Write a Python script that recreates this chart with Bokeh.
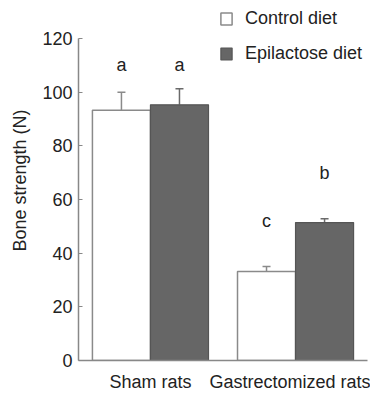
from bokeh.plotting import figure
from bokeh.models import Range1d, ColumnDataSource, Whisker, TeeHead, Legend, LegendItem, FixedTicker
from bokeh.core.properties import value
from bokeh.embed import file_html
from bokeh.resources import INLINE

groups = ["Sham rats", "Gastrectomized rats"]
series = ["Control diet", "Epilactose diet"]
control_mean = [93.3, 33.2]
control_err = [6.7, 1.8]
epi_mean = [95.3, 51.4]
epi_err = [6.0, 1.4]
control_letters = ["a", "c"]
epi_letters = ["a", "b"]
control_letter_y = [110, 52]
epi_letter_y = [110, 70]
y_ticks = [0, 20, 40, 60, 80, 100, 120]

FONT = "Liberation Sans"
TXT = "#222222"
GAP = 2.5
gx = [i * GAP for i in range(len(groups))]
cx = [g - 0.5 for g in gx]
ex = [g + 0.5 for g in gx]

Y_MAX = y_ticks[-1]
PLOT_H = 322          # pixel height of the 0..120 axis
TOP_EXTRA = 38        # pixels above the axis end (room for the legend)
FRAME_H = PLOT_H + TOP_EXTRA
y_end = Y_MAX * FRAME_H / PLOT_H

p = figure(frame_width=289, frame_height=FRAME_H, output_backend="svg", toolbar_location=None,
           x_range=Range1d(-1.24, 3.74), y_range=Range1d(0, y_end),
           min_border_left=78, min_border_right=3, min_border_top=0, min_border_bottom=32)
p.outline_line_color = None
p.grid.visible = False
p.background_fill_color = "white"

src_c = ColumnDataSource(dict(x=cx, top=control_mean, up=[m + e for m, e in zip(control_mean, control_err)],
                              ly=control_letter_y, lt=control_letters))
src_e = ColumnDataSource(dict(x=ex, top=epi_mean, up=[m + e for m, e in zip(epi_mean, epi_err)],
                              ly=epi_letter_y, lt=epi_letters))

for src, col in ((src_c, "#8a8a8a"), (src_e, "#6a6a6a")):
    w = Whisker(base="x", lower="top", upper="up", source=src, line_color=col, line_width=1.5,
                lower_head=None, upper_head=TeeHead(size=8, line_color=col, line_width=1.5))
    p.add_layout(w)

rc = p.vbar(x="x", top="top", width=1.0, source=src_c, fill_color="white", line_color="#8a8a8a", line_width=1.5)
re = p.vbar(x="x", top="top", width=1.0, source=src_e, fill_color="#666666", line_color="#555555", line_width=1.2)

for src in (src_c, src_e):
    p.text(x="x", y="ly", text="lt", source=src, text_align="center", text_baseline="middle",
           text_font=value(FONT), text_font_size="18px", text_color=TXT)

yax = p.yaxis[0]
yax.ticker = FixedTicker(ticks=y_ticks)
yax.bounds = (0, Y_MAX)
yax.axis_label = "Bone strength (N)"
yax.axis_label_text_font = FONT
yax.axis_label_text_font_style = "normal"
yax.axis_label_text_font_size = "18px"
yax.axis_label_text_color = TXT
yax.axis_label_standoff = 9
yax.major_label_text_font = FONT
yax.major_label_text_font_size = "18px"
yax.major_label_text_color = TXT
yax.major_label_standoff = 6
yax.major_tick_in = 4
yax.major_tick_out = 0
yax.minor_tick_in = 0
yax.minor_tick_out = 0
yax.axis_line_color = "#888888"
yax.major_tick_line_color = "#888888"
yax.axis_line_width = 1.5

xax = p.xaxis[0]
xax.ticker = FixedTicker(ticks=gx)
xax.major_label_overrides = {g: n for g, n in zip(gx, groups)}
xax.major_label_text_font = FONT
xax.major_label_text_font_size = "18px"
xax.major_label_text_color = TXT
xax.major_label_standoff = 11
xax.major_tick_in = 0
xax.major_tick_out = 0
xax.minor_tick_in = 0
xax.minor_tick_out = 0
xax.axis_line_color = "#888888"
xax.axis_line_width = 1.5

legend = Legend(items=[LegendItem(label=series[0], renderers=[rc]), LegendItem(label=series[1], renderers=[re])],
                location=(141, 296), orientation="vertical", glyph_width=14, glyph_height=15,
                label_height=15, spacing=14, padding=0, margin=0, label_standoff=12,
                label_text_font=FONT, label_text_font_size="18px", label_text_color=TXT,
                border_line_color=None, background_fill_alpha=0)
p.add_layout(legend, "center")

open("out.html", "w").write(file_html(p, INLINE))
